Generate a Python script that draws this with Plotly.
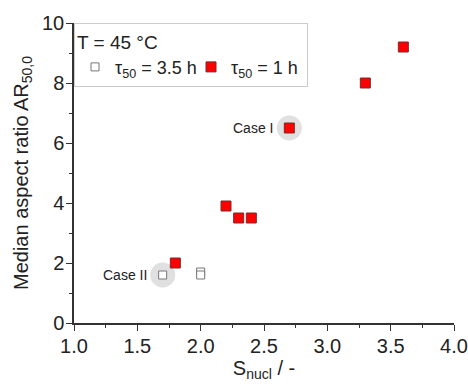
import plotly.graph_objects as go

# data
open_x = [1.7, 2.0, 2.0]
open_y = [1.6, 1.7, 1.6]
red_x = [1.8, 2.2, 2.3, 2.4, 2.7, 3.3, 3.6]
red_y = [2.0, 3.9, 3.5, 3.5, 6.5, 8.0, 9.2]
case_labels = ["Case I", "Case II"]
case_x = [2.7, 1.7]
case_y = [6.5, 1.6]
x_ticks = [1.0, 1.5, 2.0, 2.5, 3.0, 3.5, 4.0]
y_ticks = [0, 2, 4, 6, 8, 10]

FONT = "Liberation Sans, Arial, sans-serif"
FS = 20

fig = go.Figure()
fig.add_trace(go.Scatter(
    x=case_x, y=case_y, mode="markers", showlegend=False, hoverinfo="skip",
    marker=dict(symbol="circle", size=25, color="#e0e0e0", line=dict(width=0))))
fig.add_trace(go.Scatter(
    x=open_x, y=open_y, mode="markers", name="τ<sub>50</sub> = 3.5 h",
    marker=dict(symbol="square", size=8, color="white", line=dict(color="#777777", width=1))))
fig.add_trace(go.Scatter(
    x=red_x, y=red_y, mode="markers", name="τ<sub>50</sub> = 1 h",
    marker=dict(symbol="square", size=10, color="#ff0000", line=dict(color="#7a2a2a", width=1))))

for lab, cx, cy in zip(case_labels, case_x, case_y):
    fig.add_annotation(x=cx, y=cy, text=lab, showarrow=False, xanchor="right",
                       xshift=-14, font=dict(size=14, color="#222222", family=FONT))

axis_common = dict(showline=True, linecolor="#333333", linewidth=1.5, ticks="outside",
                   ticklen=6, tickwidth=1.3, tickcolor="#333333", showgrid=False,
                   zeroline=False, mirror=False,
                   tickfont=dict(size=FS, family=FONT, color="#222222"))

fig.update_layout(
    width=468, height=390,
    margin=dict(l=74, r=14, t=23, b=67),
    paper_bgcolor="white", plot_bgcolor="white",
    font=dict(family=FONT, color="#222222"),
    xaxis=dict(range=[1, 4], tickvals=x_ticks, tickformat=".1f", automargin="height",
               ticklabelstandoff=-2,
               minor=dict(dtick=0.25, ticks="outside", ticklen=3, tickcolor="#333333"),
               title=dict(text="S<sub>nucl</sub> / -", font=dict(size=FS, family=FONT), standoff=5),
               **axis_common),
    yaxis=dict(range=[0, 10], tickvals=y_ticks, automargin="width",
               ticklabelstandoff=-2,
               minor=dict(dtick=1, ticks="outside", ticklen=3, tickcolor="#333333"),
               title=dict(text="Median aspect ratio AR<sub>50,0</sub>", font=dict(size=FS, family=FONT), standoff=8),
               **axis_common),
    legend=dict(x=0, y=1, xanchor="left", yanchor="top", orientation="h",
                bgcolor="white", bordercolor="#cccccc", borderwidth=1,
                font=dict(size=18, family=FONT), itemwidth=30, entrywidth=71,
                title=dict(text="T = 45 °C", side="top", font=dict(size=19, family=FONT))),
)

fig.write_html("out.html")
